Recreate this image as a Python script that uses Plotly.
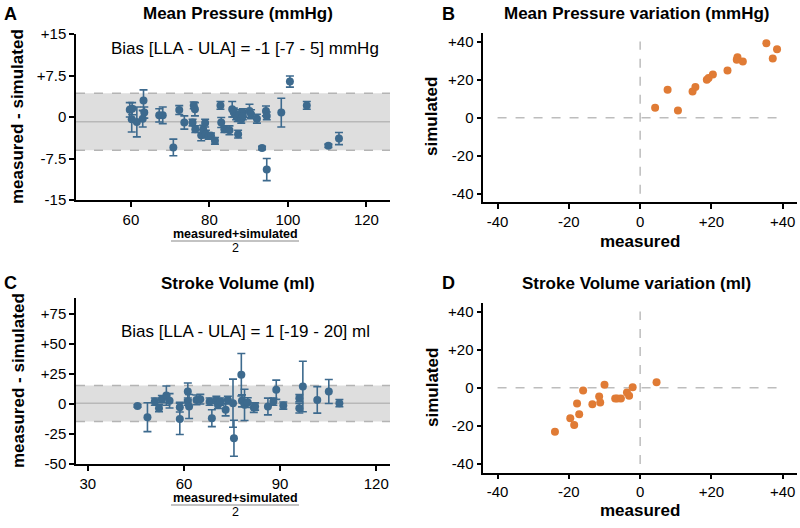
import plotly.graph_objects as go

# ---------------- data ----------------
# Panel A: Bland-Altman, mean pressure (mmHg)
a_mean = [59.7, 60.3, 60.2, 61.5, 63.2, 63.4, 63.0, 67.2, 68.1, 70.8, 72.3, 73.6, 76.0, 76.3,
          75.7, 76.4, 77.9, 78.4, 78.9, 79.1, 79.8, 80.4, 81.4, 82.8, 83.0, 83.8, 85.1, 85.8,
          86.2, 86.8, 87.2, 87.6, 87.3, 88.1, 88.5, 88.5, 90.2, 90.6, 92.1, 94.4, 94.6, 100.5,
          98.3, 104.8, 93.4, 94.6, 110.3, 113.0]
a_diff = [1.3, 1.5, -0.4, -0.9, 3.0, 0.8, -0.3, 0.3, 0.3, -5.5, 1.25, -1.0, 2.1, 1.4,
          -1.0, -2.2, -3.3, -2.2, -1.1, -3.1, -3.4, -3.4, -4.3, 2.1, -1.0, -2.2, -2.4, 1.4,
          0.8, 0.2, -0.1, 0.5, -3.1, -0.4, 0.8, 0.2, 1.1, 0.5, -0.3, 1.1, 0.2, 6.4,
          0.8, 2.1, -5.6, -9.5, -5.2, -3.9]
a_err = [1.3, 1.1, 2.3, 2.7, 1.9, 1.0, 1.5, 1.2, 1.5, 1.5, 0.8, 1.2, 0.6, 1.2,
         0.6, 0.6, 1.0, 0.7, 0.7, 0.7, 0.6, 0.5, 0.6, 0.7, 0.9, 0.6, 0.8, 1.4,
         0.8, 0.7, 0.7, 0.8, 0.7, 0.7, 0.7, 0.7, 1.2, 0.8, 0.8, 0.9, 0.7, 1.0,
         2.6, 0.7, 0.3, 2.0, 0.3, 1.1]
a_bias, a_lla, a_ula = -0.85, -6.0, 4.3
a_text = "Bias [LLA - ULA] = -1 [-7 - 5] mmHg"

# Panel B: mean pressure variation
b_meas = [4.2, 7.7, 10.6, 14.7, 15.5, 18.7, 19.2, 20.4, 24.5, 27.3, 27.1, 28.8, 35.4, 37.2, 38.4]
b_sim = [5.2, 14.7, 3.8, 13.8, 16.1, 19.9, 20.9, 22.7, 24.8, 31.8, 30.4, 29.5, 39.1, 31.1, 36.0]

# Panel C: Bland-Altman, stroke volume (ml)
c_mean = [45.5, 48.6, 50.9, 52.2, 53.1, 54.5, 55.5, 58.7, 58.7, 61.2, 61.2, 61.6, 63.9, 65.1,
          68.0, 68.7, 70.1, 70.6, 71.4, 73.0, 73.7, 75.3, 75.6, 77.9, 78.1, 78.9, 79.9, 81.8,
          82.2, 86.2, 87.9, 88.8, 91.0, 96.0, 96.0, 97.1, 101.6, 105.2, 108.5]
c_diff = [-1.7, -11.1, 1.9, -3.6, 3.9, 6.9, 2.5, -2.8, -12.5, 10.3, 1.9, -2.2, 3.3, 3.9,
          1.9, -11.9, 3.3, -0.8, 1.9, -5.0, 3.3, 0.6, -28.6, 24.2, 2.5, -0.8, 1.1, -3.1,
          -2.2, -2.2, 1.9, 11.7, -1.4, 4.7, -3.6, 14.4, 3.3, 10.3, 0.6]
c_err = [1.0, 12.0, 3.0, 3.0, 3.0, 8.0, 6.0, 4.0, 13.0, 7.0, 3.0, 10.0, 4.0, 4.0,
         3.0, 7.0, 3.0, 3.0, 3.0, 5.0, 3.0, 20.0, 15.0, 17.7, 5.0, 13.0, 4.0, 4.0,
         3.0, 7.0, 3.0, 8.0, 3.0, 3.0, 4.0, 21.0, 11.0, 10.0, 3.0]
c_bias, c_lla, c_ula = 0.5, -14.7, 15.2
c_text = "Bias [LLA - ULA] = 1 [-19 - 20] ml"

# Panel D: stroke volume variation
d_meas = [-23.9, -19.6, -18.5, -17.7, -17.1, -16.0, -13.4, -11.5, -11.2, -10.0, -7.0, -6.4,
          -5.4, -3.7, -3.1, -2.1, 4.6]
d_sim = [-23.0, -15.9, -19.5, -8.2, -13.8, -1.4, -8.6, -4.5, -7.7, 1.6, -5.6, -5.6,
         -5.6, -2.4, -4.2, 0.3, 3.0]

a_ticks = [-15, -7.5, 0, 7.5, 15]
a_ticktext = ["-15", "-7.5", "0", "+7.5", "+15"]
a_xticks = [60, 80, 100, 120]
c_ticks = [-50, -25, 0, 25, 50, 75]
c_ticktext = ["-50", "-25", "0", "+25", "+50", "+75"]
c_xticks = [30, 60, 90, 120]
v_ticks = [-40, -20, 0, 20, 40]
v_ticktext = ["-40", "-20", "0", "+20", "+40"]

BLUE = "#3d6a8e"
ORANGE = "#e07b35"
FONT = "Liberation Sans, Arial, Helvetica, sans-serif"
W, H = 800, 528

def px(x):
    return x / W

def py(y):
    return 1 - y / H

fig = go.Figure()

err_style = dict(type="data", thickness=1.6, width=4, color=BLUE)
fig.add_trace(go.Scatter(x=a_mean, y=a_diff, mode="markers", xaxis="x", yaxis="y",
                         marker=dict(size=8, color=BLUE),
                         error_y=dict(array=a_err, **err_style), showlegend=False))
fig.add_trace(go.Scatter(x=b_meas, y=b_sim, mode="markers", xaxis="x2", yaxis="y2",
                         marker=dict(size=8, color=ORANGE), showlegend=False))
fig.add_trace(go.Scatter(x=c_mean, y=c_diff, mode="markers", xaxis="x3", yaxis="y3",
                         marker=dict(size=8, color=BLUE),
                         error_y=dict(array=c_err, **err_style), showlegend=False))
fig.add_trace(go.Scatter(x=d_meas, y=d_sim, mode="markers", xaxis="x4", yaxis="y4",
                         marker=dict(size=8, color=ORANGE), showlegend=False))

axis_common = dict(showline=True, linecolor="black", linewidth=1.5, ticks="outside",
                   ticklen=5, tickwidth=1.5, tickcolor="black", showgrid=False,
                   zeroline=False, tickfont=dict(family=FONT, size=15, color="black"),
                   mirror=False, automargin=False)

dom_left = [px(76), px(390)]
dom_right = [px(483.3), px(797)]

fig.update_layout(
    width=W, height=H, margin=dict(l=0, r=0, t=0, b=0),
    paper_bgcolor="white", plot_bgcolor="white",
    xaxis=dict(domain=dom_left, anchor="y", range=[46, 126], tickvals=a_xticks, **axis_common),
    yaxis=dict(domain=[py(200), py(34)], anchor="x", range=[-15, 15], tickvals=a_ticks,
               ticktext=a_ticktext, **axis_common),
    xaxis2=dict(domain=dom_right, anchor="y2", range=[-44, 44], tickvals=v_ticks,
                ticktext=v_ticktext, **axis_common),
    yaxis2=dict(domain=[py(202.3), py(33)], anchor="x2", range=[-44.5, 44.5], tickvals=v_ticks,
                ticktext=v_ticktext, **axis_common),
    xaxis3=dict(domain=dom_left, anchor="y3", range=[26.3, 124.3], tickvals=c_xticks, **axis_common),
    yaxis3=dict(domain=[py(464), py(298)], anchor="x3", range=[-50, 88], tickvals=c_ticks,
                ticktext=c_ticktext, **axis_common),
    xaxis4=dict(domain=dom_right, anchor="y4", range=[-44, 44], tickvals=v_ticks,
                ticktext=v_ticktext, **axis_common),
    yaxis4=dict(domain=[py(472.7), py(303)], anchor="x4", range=[-44.5, 44.5], tickvals=v_ticks,
                ticktext=v_ticktext, **axis_common),
)

shapes = []
def band(xref, yref, bias, lla, ula):
    dom = xref + " domain"
    shapes.append(dict(type="rect", xref=dom, yref=yref, x0=0, x1=1, y0=lla, y1=ula,
                       fillcolor="#dedede", line=dict(width=0), layer="below"))
    for v in (lla, ula):
        shapes.append(dict(type="line", xref=dom, yref=yref, x0=0, x1=1, y0=v, y1=v,
                           line=dict(color="#b4b4b4", width=1.5, dash="dash"), layer="below"))
    shapes.append(dict(type="line", xref=dom, yref=yref, x0=0, x1=1, y0=bias, y1=bias,
                       line=dict(color="#b8b8b8", width=1.5), layer="below"))

band("x", "y", a_bias, a_lla, a_ula)
band("x3", "y3", c_bias, c_lla, c_ula)

for xr, yr in (("x2", "y2"), ("x4", "y4")):
    shapes.append(dict(type="line", xref=xr, yref=yr, x0=-40, x1=40, y0=0, y1=0,
                       line=dict(color="#bdbdbd", width=1.5, dash="dash"), layer="below"))
    shapes.append(dict(type="line", xref=xr, yref=yr, x0=0, x1=0, y0=-40, y1=40,
                       line=dict(color="#bdbdbd", width=1.5, dash="dash"), layer="below"))

# fraction bars for x-axis titles
for off in (0, 264):
    shapes.append(dict(type="line", xref="paper", yref="paper", x0=px(171), x1=px(299),
                       y0=py(241 + off), y1=py(241 + off),
                       line=dict(color="#888888", width=1.2)))

fig.update_layout(shapes=shapes)

ann = []
def text(x, y, s, size=14, bold=False, angle=0, xanchor="center"):
    ann.append(dict(x=px(x), y=py(y), xref="paper", yref="paper", text=("<b>%s</b>" % s) if bold else s,
                    showarrow=False, xanchor=xanchor, yanchor="middle", textangle=angle,
                    font=dict(family=FONT, size=size, color="black")))

# panel letters and titles
text(10, 14, "A", 18, True)
text(448, 14, "B", 18, True)
text(10, 283, "C", 18, True)
text(448, 283, "D", 18, True)
text(238, 14, "Mean Pressure (mmHg)", 17, True)
text(636, 14, "Mean Pressure variation (mmHg)", 17, True)
text(238, 283, "Stroke Volume (ml)", 17, True)
text(636, 283, "Stroke Volume variation (ml)", 17, True)

# bias annotations
text(245, 48, a_text, 17)
text(245, 331, c_text, 17)

# axis titles
text(18, 117, "measured - simulated", 17, True, -90)
text(18, 381, "measured - simulated", 17, True, -90)
text(432, 117, "simulated", 17, True, -90)
text(432, 388, "simulated", 17, True, -90)
text(640, 241, "measured", 17, True)
text(640, 510, "measured", 17, True)
for off in (0, 264):
    text(235, 234 + off, "measured+simulated", 12.5, True)
    text(235, 248 + off, "2", 12.5)

fig.update_layout(annotations=ann)

fig.write_html("out.html", config={"displayModeBar": False},
               post_script="document.body.style.margin='0';document.body.style.overflow='hidden';")
